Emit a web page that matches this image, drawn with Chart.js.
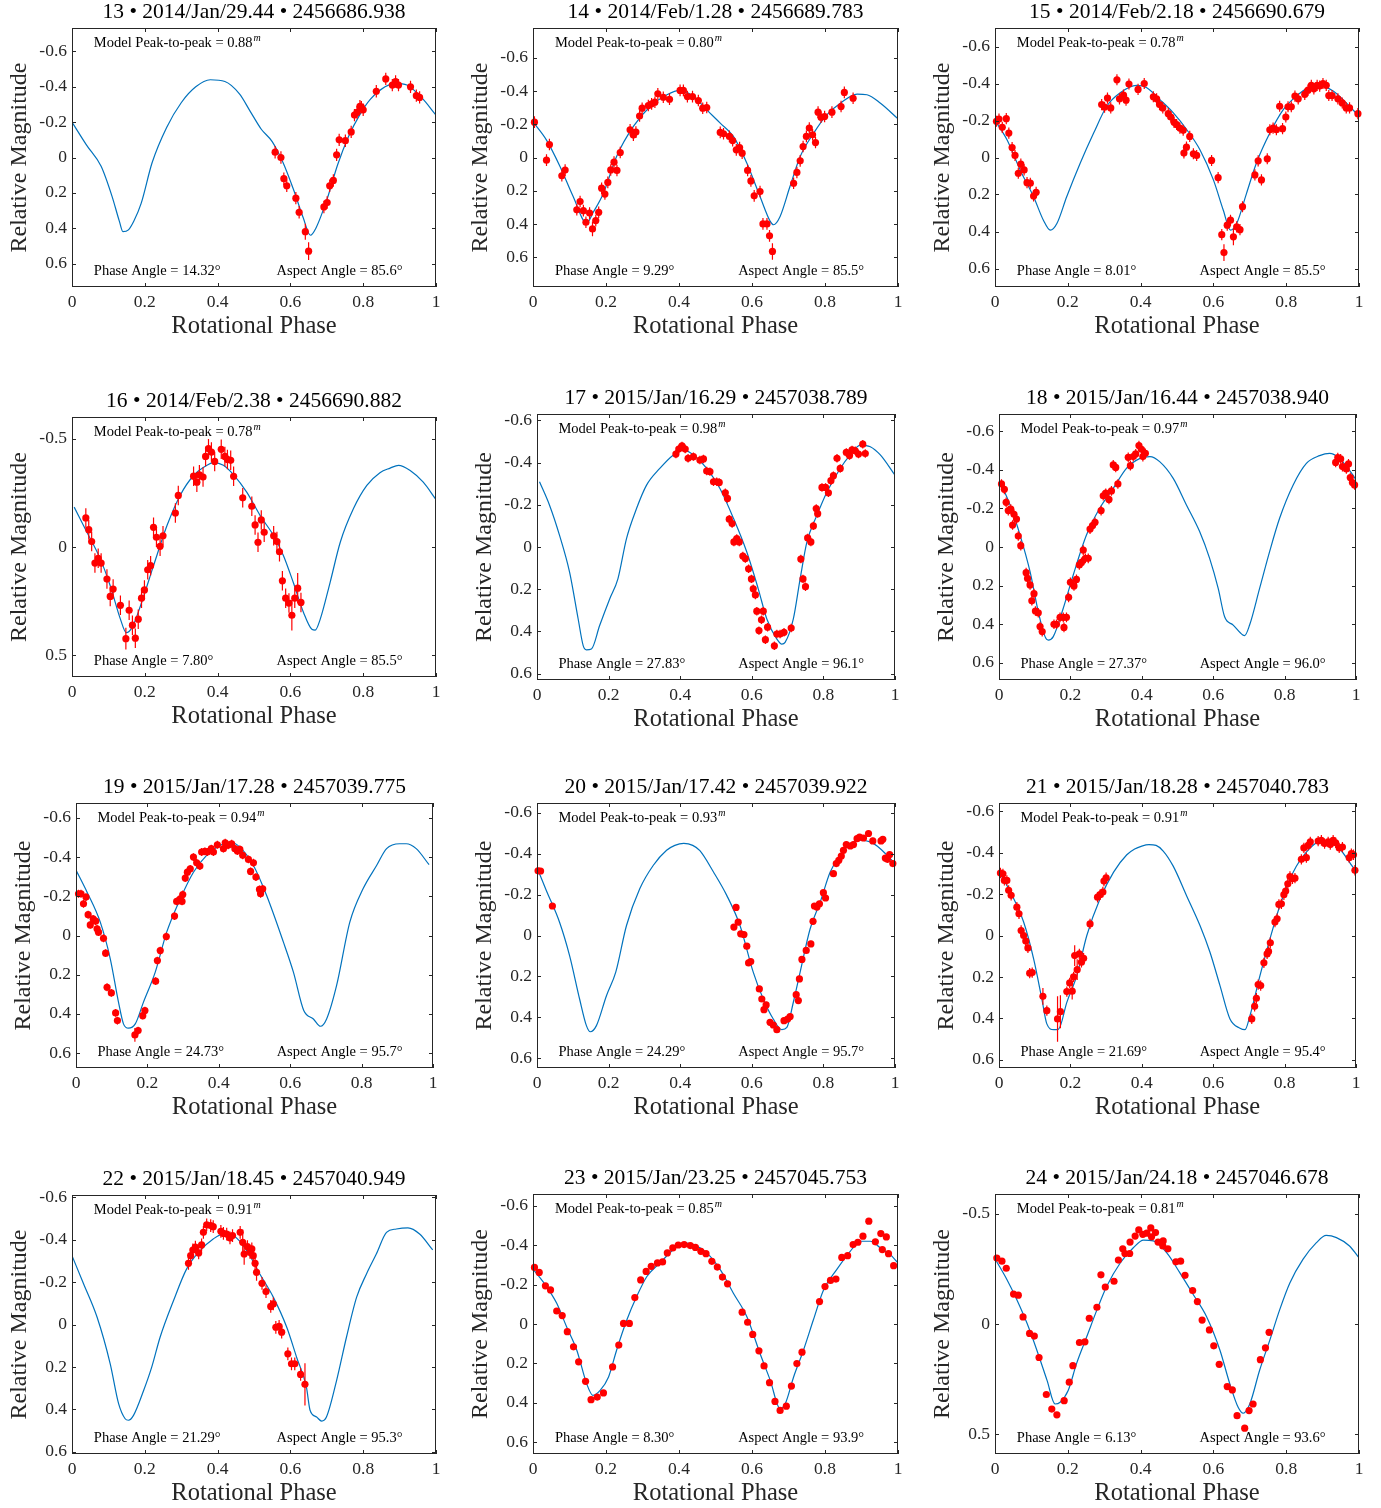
<!DOCTYPE html>
<html>
<head>
<meta charset="utf-8">
<script src="https://cdn.jsdelivr.net/npm/chart.js@4.4.0/dist/chart.umd.min.js"></script>
<style>
  body { margin: 0; background: #fff; }
  #wrap { position: relative; width: 1381px; height: 1508px; overflow: hidden; }
  .panel { position: absolute; }
</style>
</head>
<body>
<div id="wrap"></div>
<script>
// ---- panel labels ----
const sessionNo = [13, 14, 15, 16, 17, 18, 19, 20, 21, 22, 23, 24];
const obsDates = ['2014/Jan/29.44', '2014/Feb/1.28', '2014/Feb/2.18', '2014/Feb/2.38',
                  '2015/Jan/16.29', '2015/Jan/16.44', '2015/Jan/17.28', '2015/Jan/17.42',
                  '2015/Jan/18.28', '2015/Jan/18.45', '2015/Jan/23.25', '2015/Jan/24.18'];
const julianDates = ['2456686.938', '2456689.783', '2456690.679', '2456690.882',
                     '2457038.789', '2457038.940', '2457039.775', '2457039.922',
                     '2457040.783', '2457040.949', '2457045.753', '2457046.678'];
const peakToPeak = ['0.88', '0.80', '0.78', '0.78', '0.98', '0.97', '0.94', '0.93', '0.91', '0.91', '0.85', '0.81'];
const phaseAngles = ['14.32', '9.29', '8.01', '7.80', '27.83', '27.37', '24.73', '24.29', '21.69', '21.29', '8.30', '6.13'];
const aspectAngles = ['85.6', '85.5', '85.5', '85.5', '96.1', '96.0', '95.7', '95.7', '95.4', '95.3', '93.9', '93.6'];

// ---- axes ----
const xTicks = [0, 0.2, 0.4, 0.6, 0.8, 1];
const yTicksFine = [-0.6, -0.4, -0.2, 0, 0.2, 0.4, 0.6];
const yTicksCoarse = [-0.5, 0, 0.5];
const magLimits = [0.733, 0.78, 0.70, 0.60, 0.63, 0.69, 0.676, 0.647, 0.64, 0.61, 0.66, 0.59];
const coarsePanels = [16, 24];

// ---- typical error bar half-length per panel ----
const defaultErr = [0.035, 0.035, 0.03, 0.045, 0.02, 0.025, 0.02, 0.015, 0.025, 0.03, 0, 0];

// ---- model light curves [phase, mag] ----
const model13 = [[0,-0.20],[0.04,-0.07],[0.08,0.05],[0.11,0.22],[0.13,0.36],[0.14,0.42],[0.155,0.41],[0.17,0.36],[0.19,0.26],[0.22,0.03],[0.26,-0.17],[0.30,-0.31],[0.34,-0.40],[0.38,-0.44],[0.42,-0.43],[0.46,-0.36],[0.49,-0.26],[0.52,-0.16],[0.55,-0.09],[0.58,0.03],[0.61,0.19],[0.635,0.34],[0.655,0.44],[0.67,0.40],[0.70,0.24],[0.73,0.04],[0.76,-0.12],[0.79,-0.24],[0.82,-0.33],[0.86,-0.40],[0.89,-0.42],[0.92,-0.41],[0.96,-0.34],[1,-0.24]];
const model14 = [[0,-0.215],[0.037,-0.105],[0.074,0.054],[0.11,0.235],[0.147,0.395],[0.165,0.33],[0.193,0.215],[0.229,-0.006],[0.275,-0.187],[0.321,-0.307],[0.367,-0.378],[0.403,-0.404],[0.44,-0.367],[0.476,-0.287],[0.513,-0.207],[0.549,-0.127],[0.586,0.034],[0.622,0.235],[0.65,0.385],[0.659,0.405],[0.677,0.355],[0.704,0.175],[0.732,-0.006],[0.769,-0.147],[0.805,-0.257],[0.842,-0.327],[0.888,-0.382],[0.915,-0.378],[0.952,-0.327],[1,-0.233]];
const model15 = [[0,-0.20],[0.033,-0.096],[0.069,0.067],[0.106,0.212],[0.133,0.339],[0.152,0.393],[0.17,0.357],[0.197,0.212],[0.234,0.031],[0.271,-0.132],[0.307,-0.277],[0.344,-0.35],[0.389,-0.39],[0.417,-0.377],[0.453,-0.313],[0.49,-0.241],[0.527,-0.15],[0.563,-0.042],[0.60,0.121],[0.627,0.284],[0.647,0.393],[0.664,0.357],[0.691,0.194],[0.718,0.031],[0.755,-0.132],[0.792,-0.259],[0.828,-0.332],[0.865,-0.382],[0.892,-0.39],[0.929,-0.359],[0.965,-0.295],[1,-0.223]];
const model16 = [[0.006,-0.184],[0.041,-0.068],[0.078,0.056],[0.105,0.179],[0.133,0.333],[0.149,0.395],[0.165,0.372],[0.188,0.272],[0.224,0.086],[0.261,-0.099],[0.297,-0.238],[0.334,-0.33],[0.371,-0.377],[0.389,-0.389],[0.416,-0.377],[0.444,-0.333],[0.48,-0.253],[0.517,-0.145],[0.554,-0.052],[0.581,0.04],[0.608,0.164],[0.636,0.302],[0.659,0.38],[0.668,0.384],[0.682,0.333],[0.709,0.164],[0.737,-0.022],[0.773,-0.176],[0.81,-0.284],[0.846,-0.343],[0.874,-0.364],[0.897,-0.377],[0.929,-0.353],[0.965,-0.299],[1,-0.219]];
const model17 = [[0.007,-0.309],[0.035,-0.198],[0.063,-0.055],[0.091,0.119],[0.115,0.341],[0.129,0.467],[0.138,0.487],[0.152,0.483],[0.175,0.372],[0.203,0.246],[0.226,0.151],[0.25,-0.04],[0.278,-0.182],[0.306,-0.293],[0.343,-0.372],[0.381,-0.436],[0.409,-0.46],[0.437,-0.436],[0.474,-0.372],[0.511,-0.277],[0.549,-0.135],[0.586,0.024],[0.618,0.198],[0.642,0.341],[0.67,0.436],[0.684,0.46],[0.693,0.452],[0.716,0.341],[0.735,0.151],[0.754,-0.024],[0.782,-0.151],[0.81,-0.261],[0.847,-0.372],[0.875,-0.436],[0.903,-0.483],[0.931,-0.475],[0.959,-0.436],[1,-0.34]];
const model18 = [[0.003,-0.339],[0.031,-0.218],[0.059,-0.062],[0.087,0.128],[0.11,0.336],[0.129,0.465],[0.138,0.483],[0.152,0.465],[0.18,0.318],[0.208,0.145],[0.245,-0.062],[0.282,-0.201],[0.32,-0.304],[0.357,-0.408],[0.395,-0.46],[0.423,-0.469],[0.45,-0.443],[0.488,-0.356],[0.525,-0.218],[0.562,-0.08],[0.59,0.059],[0.614,0.215],[0.632,0.362],[0.656,0.405],[0.683,0.457],[0.688,0.46],[0.702,0.405],[0.73,0.215],[0.758,0.024],[0.786,-0.149],[0.824,-0.322],[0.861,-0.434],[0.898,-0.474],[0.926,-0.486],[0.954,-0.46],[0.991,-0.374],[1,-0.348]];
const model19 = [[0.001,-0.33],[0.031,-0.221],[0.068,-0.068],[0.096,0.119],[0.119,0.34],[0.133,0.451],[0.147,0.473],[0.166,0.451],[0.189,0.34],[0.222,0.187],[0.254,-0.017],[0.292,-0.187],[0.329,-0.323],[0.366,-0.409],[0.404,-0.46],[0.431,-0.477],[0.459,-0.451],[0.497,-0.357],[0.534,-0.204],[0.581,0.034],[0.609,0.187],[0.638,0.383],[0.665,0.426],[0.685,0.463],[0.702,0.426],[0.73,0.255],[0.767,-0.068],[0.804,-0.238],[0.842,-0.357],[0.87,-0.443],[0.907,-0.468],[0.925,-0.468],[0.953,-0.443],[0.989,-0.361]];
const model20 = [[0.003,-0.318],[0.026,-0.22],[0.063,-0.065],[0.091,0.098],[0.119,0.31],[0.138,0.44],[0.149,0.47],[0.166,0.44],[0.194,0.294],[0.22,0.179],[0.25,-0.049],[0.287,-0.228],[0.325,-0.343],[0.362,-0.416],[0.385,-0.44],[0.41,-0.45],[0.435,-0.44],[0.455,-0.414],[0.493,-0.31],[0.53,-0.196],[0.567,-0.049],[0.604,0.179],[0.632,0.31],[0.66,0.408],[0.684,0.46],[0.698,0.449],[0.716,0.326],[0.735,0.179],[0.763,-0.033],[0.791,-0.163],[0.819,-0.31],[0.847,-0.392],[0.875,-0.449],[0.903,-0.465],[0.931,-0.457],[0.959,-0.424],[0.996,-0.359]];
const model21 = [[0,-0.306],[0.032,-0.21],[0.069,-0.065],[0.097,0.113],[0.12,0.306],[0.134,0.427],[0.153,0.455],[0.167,0.452],[0.19,0.323],[0.218,0.194],[0.246,0],[0.283,-0.177],[0.321,-0.306],[0.358,-0.39],[0.38,-0.418],[0.40,-0.432],[0.42,-0.439],[0.44,-0.435],[0.46,-0.408],[0.488,-0.335],[0.526,-0.19],[0.563,-0.048],[0.591,0.081],[0.619,0.242],[0.647,0.403],[0.675,0.448],[0.689,0.455],[0.703,0.387],[0.731,0.194],[0.759,0.016],[0.787,-0.145],[0.824,-0.306],[0.861,-0.403],[0.898,-0.452],[0.926,-0.452],[0.954,-0.419],[0.991,-0.331],[1,-0.31]];
const model22 = [[0,-0.324],[0.032,-0.191],[0.069,-0.034],[0.105,0.185],[0.128,0.373],[0.146,0.444],[0.155,0.451],[0.169,0.428],[0.197,0.31],[0.219,0.201],[0.242,0.06],[0.279,-0.113],[0.315,-0.262],[0.352,-0.348],[0.388,-0.403],[0.416,-0.426],[0.443,-0.419],[0.48,-0.348],[0.516,-0.238],[0.553,-0.129],[0.59,0.013],[0.617,0.154],[0.644,0.295],[0.654,0.404],[0.672,0.436],[0.686,0.455],[0.699,0.436],[0.727,0.263],[0.754,0.06],[0.782,-0.129],[0.809,-0.238],[0.836,-0.332],[0.864,-0.434],[0.891,-0.45],[0.923,-0.455],[0.955,-0.426],[0.991,-0.351]];
const model23 = [[0,-0.279],[0.037,-0.19],[0.065,-0.105],[0.092,0.014],[0.12,0.133],[0.147,0.303],[0.164,0.362],[0.184,0.337],[0.207,0.269],[0.229,0.133],[0.257,-0.02],[0.284,-0.139],[0.312,-0.241],[0.348,-0.31],[0.385,-0.378],[0.412,-0.412],[0.44,-0.403],[0.476,-0.361],[0.513,-0.276],[0.549,-0.156],[0.586,-0.037],[0.622,0.15],[0.65,0.286],[0.677,0.43],[0.691,0.405],[0.714,0.269],[0.741,0.133],[0.768,-0.02],[0.796,-0.173],[0.832,-0.276],[0.869,-0.369],[0.897,-0.42],[0.924,-0.42],[0.952,-0.386],[0.979,-0.352],[1,-0.31]];
const model24 = [[0.004,-0.285],[0.033,-0.201],[0.06,-0.11],[0.088,-0.003],[0.115,0.119],[0.143,0.256],[0.165,0.363],[0.179,0.355],[0.201,0.302],[0.224,0.18],[0.252,0.058],[0.28,-0.064],[0.307,-0.171],[0.344,-0.277],[0.38,-0.346],[0.408,-0.381],[0.435,-0.377],[0.472,-0.323],[0.508,-0.232],[0.545,-0.133],[0.581,-0.034],[0.618,0.119],[0.645,0.271],[0.668,0.378],[0.682,0.405],[0.70,0.363],[0.727,0.21],[0.755,0.073],[0.782,-0.064],[0.81,-0.186],[0.846,-0.293],[0.883,-0.369],[0.91,-0.402],[0.938,-0.392],[0.974,-0.354],[1,-0.3]];

// ---- observations [phase, mag, (error if not the panel default)] ----
const obs13 = [[0.558,-0.03],[0.574,0],[0.582,0.12],[0.59,0.16],[0.615,0.23],[0.624,0.31],[0.641,0.42,0.045],[0.65,0.53,0.05],[0.692,0.28],[0.701,0.255],[0.708,0.16],[0.718,0.13],[0.727,-0.015],[0.734,-0.10],[0.751,-0.095],[0.767,-0.145],[0.776,-0.24],[0.783,-0.255],[0.791,-0.29],[0.795,-0.285],[0.80,-0.27],[0.836,-0.375],[0.862,-0.445],[0.88,-0.41],[0.889,-0.43],[0.897,-0.41],[0.93,-0.40],[0.946,-0.35],[0.955,-0.34]];
const obs14 = [[0.004,-0.213],[0.037,0.016],[0.045,-0.078],[0.079,0.11],[0.088,0.076],[0.12,0.315],[0.129,0.265],[0.138,0.32],[0.145,0.39],[0.155,0.335],[0.163,0.43,0.045],[0.172,0.38],[0.18,0.33],[0.188,0.185],[0.197,0.22],[0.205,0.15],[0.213,0.075],[0.222,0.028],[0.23,0.078],[0.239,-0.03],[0.266,-0.167],[0.275,-0.135],[0.282,-0.153],[0.292,-0.25],[0.299,-0.297],[0.316,-0.313],[0.325,-0.323],[0.334,-0.333],[0.342,-0.384],[0.357,-0.363],[0.374,-0.351],[0.403,-0.404],[0.412,-0.404],[0.423,-0.367],[0.437,-0.367],[0.453,-0.343],[0.465,-0.297],[0.476,-0.301],[0.513,-0.151],[0.522,-0.143],[0.538,-0.127],[0.547,-0.102],[0.557,-0.046],[0.566,-0.06],[0.573,-0.026],[0.588,0.078],[0.597,0.141],[0.606,0.231],[0.622,0.205],[0.63,0.40],[0.641,0.40],[0.648,0.472],[0.656,0.566,0.05],[0.714,0.155],[0.723,0.09],[0.732,0.02],[0.74,-0.066],[0.749,-0.127],[0.757,-0.177],[0.766,-0.137],[0.774,-0.09],[0.781,-0.273],[0.789,-0.243],[0.799,-0.247],[0.819,-0.273],[0.844,-0.307],[0.853,-0.392],[0.877,-0.357]];
const obs15 = [[0.004,-0.196],[0.011,-0.208],[0.02,-0.163],[0.031,-0.21],[0.038,-0.132],[0.047,-0.054],[0.055,-0.011],[0.064,0.085],[0.071,0.036],[0.08,0.067],[0.088,0.136],[0.097,0.139],[0.106,0.208],[0.113,0.188],[0.293,-0.286],[0.301,-0.272],[0.309,-0.321],[0.318,-0.268],[0.335,-0.42],[0.342,-0.317],[0.353,-0.337],[0.36,-0.31],[0.368,-0.397],[0.393,-0.368],[0.41,-0.40],[0.435,-0.328],[0.444,-0.317],[0.452,-0.286],[0.461,-0.268],[0.476,-0.237],[0.483,-0.219],[0.492,-0.19],[0.499,-0.178],[0.508,-0.159],[0.517,-0.147],[0.535,-0.114],[0.519,-0.024],[0.526,-0.056],[0.545,-0.02],[0.554,-0.011],[0.595,0.016],[0.613,0.109],[0.623,0.417],[0.629,0.514,0.045],[0.638,0.366],[0.647,0.339],[0.655,0.429,0.045],[0.664,0.375],[0.673,0.39],[0.68,0.266],[0.714,0.094],[0.723,0.018],[0.732,0.121],[0.748,0.007],[0.755,-0.15],[0.764,-0.159],[0.773,-0.15],[0.782,-0.277],[0.79,-0.156],[0.799,-0.219],[0.805,-0.274],[0.814,-0.274],[0.824,-0.332],[0.833,-0.317],[0.851,-0.341],[0.86,-0.364],[0.869,-0.39],[0.876,-0.371],[0.885,-0.39],[0.892,-0.386],[0.901,-0.40],[0.91,-0.39],[0.917,-0.335],[0.926,-0.335],[0.942,-0.317],[0.954,-0.295],[0.965,-0.268],[0.974,-0.268],[0.997,-0.237]];
const obs16 = [[0.038,-0.134],[0.046,-0.08],[0.054,-0.025],[0.063,0.074],[0.072,0.052],[0.08,0.074],[0.096,0.148],[0.105,0.228],[0.113,0.194],[0.133,0.269],[0.148,0.423,0.05],[0.157,0.292],[0.166,0.361],[0.174,0.421],[0.182,0.333],[0.191,0.236],[0.199,0.198],[0.208,0.105],[0.216,0.086],[0.224,-0.091],[0.232,-0.045],[0.242,-0.003],[0.25,-0.052],[0.284,-0.157],[0.292,-0.238],[0.334,-0.327],[0.343,-0.299],[0.35,-0.333],[0.36,-0.323],[0.367,-0.418],[0.375,-0.454],[0.383,-0.438],[0.392,-0.395],[0.41,-0.451],[0.42,-0.418],[0.427,-0.404],[0.436,-0.40],[0.444,-0.326],[0.469,-0.227],[0.494,-0.188],[0.503,-0.102],[0.511,-0.022],[0.52,-0.125],[0.528,-0.068],[0.554,-0.052],[0.563,-0.025],[0.57,0.022],[0.578,0.156],[0.587,0.236],[0.596,0.259],[0.604,0.315,0.07],[0.612,0.236],[0.62,0.19,0.07],[0.629,0.256]];
const obs17 = [[0.388,-0.44],[0.396,-0.464],[0.405,-0.479],[0.414,-0.464],[0.422,-0.42],[0.437,-0.428],[0.455,-0.412],[0.465,-0.417],[0.474,-0.36],[0.483,-0.357],[0.493,-0.309],[0.502,-0.309],[0.509,-0.306],[0.526,-0.257],[0.532,-0.23],[0.537,-0.132],[0.545,-0.111],[0.55,-0.024],[0.558,-0.04],[0.565,-0.024],[0.575,0.043],[0.582,0.055],[0.591,0.103],[0.599,0.151],[0.604,0.198],[0.61,0.227],[0.614,0.304],[0.62,0.396],[0.627,0.345],[0.632,0.304],[0.638,0.439],[0.644,0.38],[0.663,0.468],[0.67,0.412],[0.679,0.412],[0.69,0.404],[0.71,0.384],[0.737,0.057],[0.743,0.151],[0.75,0.188],[0.756,-0.043],[0.765,-0.024],[0.772,-0.1],[0.78,-0.182],[0.784,-0.158],[0.796,-0.282],[0.806,-0.282],[0.814,-0.257],[0.821,-0.314],[0.828,-0.338],[0.838,-0.42],[0.847,-0.372],[0.864,-0.448],[0.873,-0.433],[0.88,-0.46],[0.889,-0.456],[0.898,-0.44],[0.91,-0.487],[0.917,-0.443]];
const obs18 = [[0.007,-0.327],[0.015,-0.299],[0.02,-0.232],[0.026,-0.189],[0.033,-0.197],[0.042,-0.17],[0.049,-0.145],[0.038,-0.114],[0.054,-0.057],[0.061,-0.007],[0.076,0.133],[0.08,0.163],[0.087,0.197],[0.098,0.242],[0.092,0.279],[0.102,0.332],[0.11,0.341],[0.115,0.413],[0.121,0.439],[0.154,0.401],[0.161,0.401],[0.171,0.365],[0.18,0.365],[0.189,0.365],[0.182,0.417],[0.195,0.261],[0.20,0.183],[0.21,0.202],[0.217,0.168],[0.225,0.093],[0.231,0.08],[0.236,0.016],[0.242,0.059],[0.25,0.059],[0.255,-0.093],[0.262,-0.111],[0.269,-0.128],[0.286,-0.189],[0.292,-0.266],[0.299,-0.279],[0.308,-0.247],[0.315,-0.291],[0.32,-0.426],[0.327,-0.413],[0.333,-0.327],[0.362,-0.465],[0.368,-0.422],[0.376,-0.469],[0.383,-0.483],[0.392,-0.526],[0.399,-0.507],[0.403,-0.469],[0.41,-0.486],[0.943,-0.439],[0.949,-0.464],[0.957,-0.457],[0.962,-0.417],[0.973,-0.405],[0.979,-0.431],[0.984,-0.36],[0.99,-0.334],[0.996,-0.322]];
const obs19 = [[0.007,-0.213],[0.014,-0.213],[0.021,-0.162],[0.028,-0.196],[0.034,-0.106],[0.04,-0.054],[0.048,-0.085],[0.055,-0.073],[0.059,-0.034],[0.063,-0.017],[0.077,0.014],[0.083,0.09],[0.087,0.264],[0.099,0.293],[0.111,0.395],[0.116,0.434],[0.165,0.507,0.035],[0.174,0.485],[0.187,0.409],[0.193,0.383],[0.223,0.233],[0.228,0.128],[0.236,0.077],[0.253,0.005],[0.276,-0.099],[0.282,-0.174],[0.292,-0.187],[0.297,-0.174],[0.299,-0.209],[0.306,-0.293],[0.312,-0.323],[0.32,-0.34],[0.329,-0.40],[0.338,-0.371],[0.347,-0.354],[0.352,-0.426],[0.361,-0.429],[0.368,-0.426],[0.379,-0.443],[0.385,-0.426],[0.396,-0.463],[0.413,-0.443],[0.418,-0.473],[0.426,-0.46],[0.436,-0.468],[0.445,-0.443],[0.452,-0.431],[0.459,-0.439],[0.467,-0.409],[0.483,-0.388],[0.497,-0.371],[0.489,-0.327],[0.504,-0.298],[0.514,-0.235],[0.523,-0.238],[0.517,-0.213]];
const obs20 = [[0.003,-0.316],[0.01,-0.315],[0.043,-0.144],[0.55,-0.041],[0.556,-0.137],[0.562,-0.065],[0.569,-0.008],[0.578,-0.005],[0.586,0.052],[0.591,0.134],[0.597,0.127],[0.621,0.261],[0.628,0.31],[0.634,0.362],[0.64,0.339],[0.651,0.424],[0.66,0.437],[0.67,0.46],[0.69,0.416],[0.70,0.408],[0.707,0.396],[0.724,0.289],[0.73,0.318],[0.733,0.212],[0.74,0.117],[0.752,0.073],[0.765,0.041],[0.771,-0.069],[0.775,-0.144],[0.782,-0.139],[0.789,-0.155],[0.80,-0.209],[0.806,-0.183],[0.828,-0.302],[0.836,-0.351],[0.843,-0.367],[0.85,-0.388],[0.856,-0.416],[0.864,-0.444],[0.875,-0.437],[0.884,-0.444],[0.894,-0.473],[0.901,-0.481],[0.912,-0.476],[0.926,-0.498],[0.938,-0.462],[0.961,-0.462],[0.966,-0.47],[0.973,-0.378],[0.979,-0.372],[0.985,-0.395],[0.994,-0.351]];
const obs21 = [[0.004,-0.302],[0.011,-0.298],[0.015,-0.266],[0.022,-0.266],[0.027,-0.218],[0.034,-0.194],[0.05,-0.137],[0.056,-0.105],[0.062,-0.024],[0.069,0],[0.075,0.027],[0.081,0.06],[0.086,0.182],[0.093,0.179],[0.123,0.294,0.04],[0.134,0.363],[0.164,0.403,0.11],[0.172,0.368,0.08],[0.19,0.271],[0.198,0.229],[0.205,0.269,0.04],[0.209,0.20],[0.212,0.097,0.05],[0.219,0.165,0.05],[0.225,0.089],[0.231,0.129],[0.237,0.11],[0.255,-0.056],[0.276,-0.185],[0.283,-0.197],[0.291,-0.21],[0.294,-0.263],[0.30,-0.279],[0.708,0.403],[0.716,0.342],[0.721,0.303],[0.726,0.237],[0.733,0.242],[0.742,0.132],[0.751,0.089],[0.755,0.077],[0.76,0.035],[0.773,-0.065],[0.779,-0.081],[0.784,-0.15],[0.791,-0.153],[0.798,-0.197],[0.803,-0.215],[0.809,-0.25],[0.815,-0.285],[0.822,-0.274],[0.829,-0.277],[0.847,-0.368],[0.854,-0.423],[0.861,-0.376],[0.866,-0.435],[0.872,-0.452],[0.894,-0.456],[0.903,-0.46],[0.912,-0.444],[0.922,-0.452],[0.928,-0.439],[0.936,-0.46],[0.943,-0.448],[0.953,-0.423],[0.962,-0.427],[0.981,-0.376],[0.987,-0.395],[0.993,-0.39],[0.997,-0.315]];
const obs22 = [[0.32,-0.288],[0.326,-0.324],[0.332,-0.351],[0.339,-0.364],[0.348,-0.337],[0.356,-0.375],[0.361,-0.434],[0.37,-0.469],[0.381,-0.466],[0.388,-0.461],[0.409,-0.439],[0.416,-0.429],[0.425,-0.426],[0.434,-0.408],[0.441,-0.419],[0.462,-0.434],[0.469,-0.387,0.06],[0.473,-0.332,0.05],[0.482,-0.367],[0.489,-0.34],[0.494,-0.356],[0.498,-0.324],[0.503,-0.288],[0.507,-0.246,0.04],[0.522,-0.194],[0.533,-0.155],[0.546,-0.085],[0.553,-0.097],[0.56,0.013],[0.569,0.009],[0.576,0.036],[0.593,0.138],[0.603,0.185],[0.612,0.185],[0.628,0.235],[0.64,0.282,0.1]];
const obs23 = [[0.004,-0.287],[0.017,-0.262],[0.034,-0.194],[0.048,-0.173],[0.065,-0.066],[0.08,-0.043],[0.094,0.039],[0.111,0.116],[0.125,0.192],[0.144,0.291],[0.159,0.384],[0.176,0.371],[0.193,0.35],[0.218,0.218],[0.235,0.107],[0.248,-0.003],[0.264,-0.003],[0.279,-0.134],[0.295,-0.224],[0.31,-0.267],[0.324,-0.293],[0.341,-0.31],[0.355,-0.315],[0.368,-0.361],[0.383,-0.386],[0.398,-0.401],[0.414,-0.403],[0.431,-0.398],[0.445,-0.389],[0.46,-0.369],[0.474,-0.357],[0.49,-0.318],[0.505,-0.289],[0.519,-0.238],[0.533,-0.204],[0.573,-0.06],[0.588,-0.009],[0.602,0.053],[0.619,0.136],[0.633,0.213],[0.648,0.298],[0.663,0.393],[0.677,0.439],[0.694,0.417],[0.708,0.315],[0.723,0.201],[0.737,0.143],[0.785,-0.114],[0.80,-0.19],[0.815,-0.221],[0.83,-0.228],[0.846,-0.338],[0.862,-0.347],[0.877,-0.403],[0.89,-0.415],[0.904,-0.446],[0.92,-0.522],[0.938,-0.417],[0.953,-0.459],[0.957,-0.378],[0.968,-0.442],[0.974,-0.357],[0.988,-0.296]];
const obs24 = [[0.005,-0.299],[0.019,-0.285],[0.031,-0.253],[0.051,-0.136],[0.064,-0.131],[0.077,-0.032],[0.095,0.043],[0.108,0.055],[0.121,0.152],[0.141,0.32],[0.156,0.386],[0.17,0.412],[0.19,0.348],[0.204,0.264],[0.214,0.189],[0.232,0.084],[0.247,0.081],[0.259,-0.026],[0.28,-0.076],[0.291,-0.223],[0.303,-0.168],[0.327,-0.194],[0.339,-0.29],[0.351,-0.341],[0.357,-0.32],[0.37,-0.32],[0.371,-0.372],[0.385,-0.399],[0.395,-0.427],[0.406,-0.407],[0.417,-0.412],[0.428,-0.436],[0.43,-0.396],[0.441,-0.415],[0.448,-0.372],[0.461,-0.354],[0.462,-0.377],[0.475,-0.341],[0.497,-0.282],[0.51,-0.285],[0.522,-0.221],[0.543,-0.152],[0.556,-0.102],[0.569,-0.018],[0.589,0.027],[0.601,0.099],[0.616,0.183],[0.638,0.284],[0.652,0.299],[0.665,0.416],[0.686,0.473],[0.698,0.393],[0.709,0.363],[0.729,0.162],[0.743,0.108],[0.753,0.038]];

const models = [model13, model14, model15, model16, model17, model18, model19, model20, model21, model22, model23, model24];
const observations = [obs13, obs14, obs15, obs16, obs17, obs18, obs19, obs20, obs21, obs22, obs23, obs24];

// ---- page layout: plot-area boxes [left, top, right, bottom] in page pixels ----
const plotBoxes = [
  [72, 28, 436, 287], [533, 28, 898, 287], [995, 28, 1359, 287],
  [72, 417, 436, 677], [537, 414, 895, 680], [999, 414, 1356, 680],
  [76, 803, 433, 1068], [537, 803, 895, 1068], [999, 803, 1356, 1068],
  [72, 1195, 436, 1454], [533, 1194, 898, 1454], [995, 1194, 1359, 1454]
];
const AXIS_W = 70, AXIS_H = 60, PAD_T = 28, PAD_R = 12;
const FONT = '"Liberation Serif", "Times New Roman", serif';
const INK = '#262626';

function fmtTick(v) {
    const r = Math.round(v * 10) / 10;
    return r === 0 ? '0' : String(r);
}

function errorSegments(arr, e0) {
    const out = [];
    arr.forEach(p => {
        const e = p.length > 2 ? p[2] : e0;
        if (e > 0) {
            out.push({x: p[0], y: p[1] - e}, {x: p[0], y: p[1] + e}, {x: p[0], y: null});
        }
    });
    return out;
}

function makeDecor(i) {
    return {
        id: 'decor' + i,
        afterDraw(chart) {
            const ctx = chart.ctx;
            const a = chart.chartArea;
            const sx = chart.scales.x, sy = chart.scales.y;
            ctx.save();
            // box + inward ticks on all sides
            ctx.strokeStyle = INK;
            ctx.lineWidth = 1;
            ctx.strokeRect(a.left + 0.5, a.top + 0.5, a.right - a.left - 1, a.bottom - a.top - 1);
            ctx.beginPath();
            const tl = 4;
            sx.ticks.forEach(t => {
                const px = Math.round(sx.getPixelForValue(t.value)) + 0.5;
                ctx.moveTo(px, a.bottom); ctx.lineTo(px, a.bottom - tl);
                ctx.moveTo(px, a.top); ctx.lineTo(px, a.top + tl);
            });
            sy.ticks.forEach(t => {
                const py = Math.round(sy.getPixelForValue(t.value)) + 0.5;
                ctx.moveTo(a.left, py); ctx.lineTo(a.left + tl, py);
                ctx.moveTo(a.right, py); ctx.lineTo(a.right - tl, py);
            });
            ctx.stroke();

            // title
            const w = a.right - a.left, h = a.bottom - a.top;
            ctx.fillStyle = '#000';
            ctx.font = '21.5px ' + FONT;
            ctx.textAlign = 'center';
            ctx.textBaseline = 'alphabetic';
            ctx.fillText(sessionNo[i] + ' \u2022 ' + obsDates[i] + ' \u2022 ' + julianDates[i], (a.left + a.right) / 2, a.top - 10);

            // annotations
            ctx.textAlign = 'left';
            ctx.font = '14.5px ' + FONT;
            const lx = a.left + 0.06 * w;
            const s1 = 'Model Peak-to-peak = ' + peakToPeak[i];
            ctx.fillText(s1, lx, a.top + 19);
            const sw = ctx.measureText(s1).width;
            ctx.font = 'italic 10px ' + FONT;
            ctx.fillText('m', lx + sw + 1, a.top + 13);
            ctx.font = '14.5px ' + FONT;
            const yb = a.bottom - 0.045 * h;
            ctx.fillText('Phase Angle = ' + phaseAngles[i] + '\u00b0', lx, yb);
            ctx.fillText('Aspect Angle = ' + aspectAngles[i] + '\u00b0', a.left + 0.562 * w, yb);
            ctx.restore();
        }
    };
}

const wrap = document.getElementById('wrap');

sessionNo.forEach((no, i) => {
    const [L, T, R, B] = plotBoxes[i];
    const w = (R - L) + AXIS_W + PAD_R;
    const h = (B - T) + PAD_T + AXIS_H;
    const div = document.createElement('div');
    div.className = 'panel';
    div.style.left = (L - AXIS_W) + 'px';
    div.style.top = (T - PAD_T) + 'px';
    const cv = document.createElement('canvas');
    cv.width = w; cv.height = h;
    cv.style.width = w + 'px'; cv.style.height = h + 'px';
    div.appendChild(cv);
    wrap.appendChild(div);

    const lim = magLimits[i];
    const yTicks = coarsePanels.includes(no) ? yTicksCoarse : yTicksFine;

    new Chart(cv, {
        type: 'scatter',
        data: {
            datasets: [
                {
                    label: 'obs',
                    data: observations[i].map(p => ({x: p[0], y: p[1]})),
                    pointRadius: 3.6,
                    pointBackgroundColor: '#ff0000',
                    pointBorderWidth: 0,
                    clip: false
                },
                {
                    type: 'line',
                    label: 'err',
                    data: errorSegments(observations[i], defaultErr[i]),
                    borderColor: '#ff0000',
                    borderWidth: 1.2,
                    pointRadius: 0,
                    spanGaps: false,
                    tension: 0
                },
                {
                    type: 'line',
                    label: 'model',
                    data: models[i].map(p => ({x: p[0], y: p[1]})),
                    borderColor: '#0072bd',
                    borderWidth: 1.2,
                    pointRadius: 0,
                    cubicInterpolationMode: 'monotone'
                }
            ]
        },
        options: {
            responsive: false,
            animation: false,
            events: [],
            layout: {padding: {top: PAD_T, right: PAD_R, left: 0, bottom: 0}},
            plugins: {legend: {display: false}, tooltip: {enabled: false}},
            scales: {
                x: {
                    type: 'linear', min: 0, max: 1,
                    grid: {display: false, drawTicks: false},
                    border: {display: false},
                    afterBuildTicks: s => { s.ticks = xTicks.map(v => ({value: v})); },
                    afterFit: s => { s.height = AXIS_H; },
                    ticks: {padding: 5, color: INK, autoSkip: false, maxRotation: 0,
                            font: {family: FONT, size: 17.5}, callback: fmtTick},
                    title: {display: true, text: 'Rotational Phase', color: INK,
                            font: {family: FONT, size: 24.5}, padding: {top: 0, bottom: 6}}
                },
                y: {
                    type: 'linear', reverse: true, min: -lim, max: lim,
                    grid: {display: false, drawTicks: false},
                    border: {display: false},
                    afterBuildTicks: s => { s.ticks = yTicks.map(v => ({value: v})); },
                    afterFit: s => { s.width = AXIS_W; },
                    ticks: {padding: 5, color: INK, autoSkip: false,
                            font: {family: FONT, size: 17.5}, callback: fmtTick},
                    title: {display: true, text: 'Relative Magnitude', color: INK,
                            font: {family: FONT, size: 24}, padding: {top: 3, bottom: 0}}
                }
            }
        },
        plugins: [makeDecor(i)]
    });
});
</script>
</body>
</html>
